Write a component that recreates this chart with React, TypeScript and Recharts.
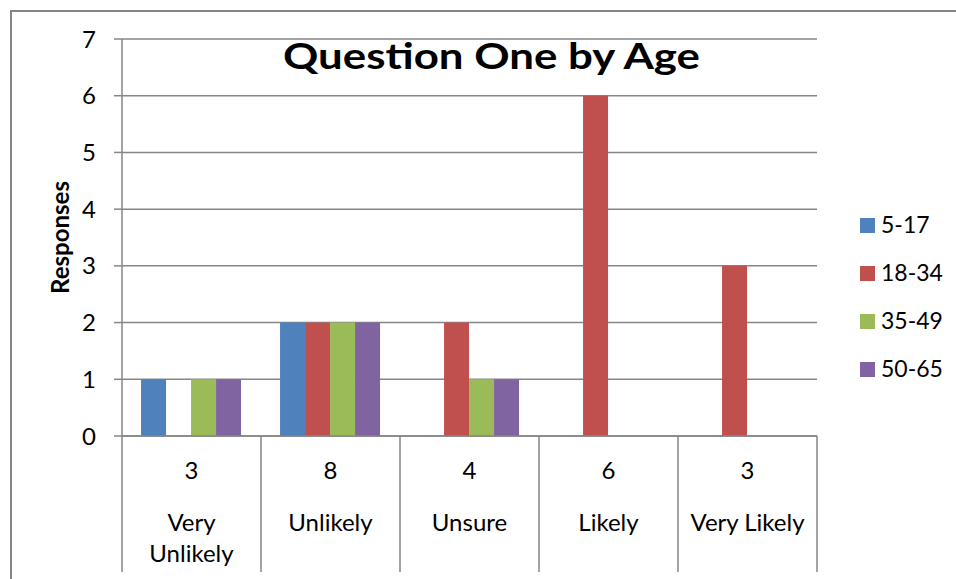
import React from 'react';
import { BarChart, Bar, XAxis, YAxis, CartesianGrid, Legend, Label } from 'recharts';

// Answer categories along the x axis
const categories = ['Very Unlikely', 'Unlikely', 'Unsure', 'Likely', 'Very Likely'];
// How each category label wraps under its column
const categoryLines = [['Very', 'Unlikely'], ['Unlikely'], ['Unsure'], ['Likely'], ['Very Likely']];

// Responses per age group
const ages5to17 = [1, 2, 0, 0, 0];
const ages18to34 = [0, 2, 2, 6, 3];
const ages35to49 = [1, 2, 1, 0, 0];
const ages50to65 = [1, 2, 1, 0, 0];

const seriesNames = ['5-17', '18-34', '35-49', '50-65'];
const seriesColors = ['#4F81BD', '#C0504D', '#9BBB59', '#8064A2'];
const yTicks = [0, 1, 2, 3, 4, 5, 6, 7];

const seriesValues = [ages5to17, ages18to34, ages35to49, ages50to65];

const data = categories.map((category, i) => {
  const row: Record<string, string | number> = { category };
  let total = 0;
  seriesNames.forEach((name, k) => {
    row[name] = seriesValues[k][i];
    total += seriesValues[k][i];
  });
  row.total = total;
  return row;
});

const FONT = 'Lato, "Open Sans", sans-serif';
const LINE = '#868686';
const WIDTH = 956;
const HEIGHT = 579;
const PLOT_LEFT = 122;
const PLOT_RIGHT = 817;
const BAND = (PLOT_RIGHT - PLOT_LEFT) / categories.length;
const AXIS_HEIGHT = 136;
const LABEL_SIZE = 24;

function CategoryTick(props: any) {
  const { x, y, payload } = props;
  const idx = categories.indexOf(payload.value);
  const row = data[idx];
  const lines = categoryLines[idx];
  const left = x - BAND / 2;
  const right = x + BAND / 2;
  return (
    <g>
      <line x1={left} y1={y} x2={left} y2={y + AXIS_HEIGHT} stroke={LINE} strokeWidth={1.5} />
      {idx === categories.length - 1 && (
        <line x1={right} y1={y} x2={right} y2={y + AXIS_HEIGHT} stroke={LINE} strokeWidth={1.5} />
      )}
      <text x={x} y={y + 43} textAnchor="middle" fontSize={LABEL_SIZE} fontFamily={FONT} fill="#000">
        {row.total}
      </text>
      {lines.map((l, j) => (
        <text key={j} x={x} y={y + 95 + j * 31} textAnchor="middle" fontSize={LABEL_SIZE} fontFamily={FONT} fill="#000">
          {l}
        </text>
      ))}
    </g>
  );
}

function LegendList(props: any) {
  const payload = [...(props.payload || [])].sort(
    (a: any, b: any) => seriesNames.indexOf(a.value) - seriesNames.indexOf(b.value)
  );
  return (
    <svg width={95} height={170} style={{ display: 'block', overflow: 'visible' }}>
      {payload.map((p: any, i: number) => (
        <g key={p.value} transform={`translate(0, ${i * 48})`}>
          <rect x={0} y={0} width={15} height={15} fill={p.color} />
          <text x={21} y={15} fontSize={23} fontFamily={FONT} fill="#000">
            {p.value}
          </text>
        </g>
      ))}
    </svg>
  );
}

export default function App() {
  return (
    <div style={{ position: 'absolute', left: 0, top: 0, width: WIDTH, height: HEIGHT, background: '#fff', overflow: 'hidden' }}>
      <div
        style={{
          position: 'absolute',
          left: 10,
          top: 10,
          width: WIDTH,
          height: HEIGHT,
          borderTop: `2px solid ${LINE}`,
          borderLeft: `2px solid ${LINE}`,
          boxSizing: 'border-box',
        }}
      />
      <BarChart
        width={WIDTH}
        height={HEIGHT}
        data={data}
        margin={{ top: 39, right: WIDTH - PLOT_RIGHT, bottom: HEIGHT - 436 - AXIS_HEIGHT, left: 0 }}
        barCategoryGap="13.7%"
        barGap={0}
        style={{ position: 'absolute', left: 0, top: 0 }}
      >
        <CartesianGrid vertical={false} stroke={LINE} strokeWidth={1.5} />
        <XAxis
          dataKey="category"
          height={AXIS_HEIGHT}
          tickLine={false}
          tickSize={0}
          tickMargin={0}
          axisLine={{ stroke: LINE, strokeWidth: 1.5 }}
          tick={<CategoryTick />}
          interval={0}
        />
        <YAxis
          width={PLOT_LEFT}
          domain={[0, 7]}
          ticks={yTicks}
          interval={0}
          tickSize={8}
          tickMargin={18}
          tickLine={{ stroke: LINE, strokeWidth: 1.5 }}
          axisLine={{ stroke: LINE, strokeWidth: 1.5 }}
          tick={{ fontSize: LABEL_SIZE, fontFamily: FONT, fill: '#000' }}
        >
          <Label
            value="Responses"
            position="center"
            angle={-90}
            dx={-1}
            style={{ fontSize: 24, fontWeight: 700, fontFamily: FONT, fill: '#000' }}
          />
        </YAxis>
        <Legend
          layout="horizontal"
          verticalAlign="middle"
          align="center"
          content={<LegendList />}
          wrapperStyle={{ left: 860, top: 218, width: 95, height: 170 }}
        />
        {seriesNames.map((name, k) => (
          <Bar key={name} dataKey={name} name={name} fill={seriesColors[k]} isAnimationActive={false} />
        ))}
      </BarChart>
      <svg width={WIDTH} height={HEIGHT} style={{ position: 'absolute', left: 0, top: 0, pointerEvents: 'none' }}>
        <text
          x={491.5}
          y={69}
          textAnchor="middle"
          fontSize={36}
          fontWeight={700}
          fontFamily={FONT}
          fill="#000"
          textLength={417}
          lengthAdjust="spacingAndGlyphs"
        >
          Question One by Age
        </text>
      </svg>
    </div>
  );
}
